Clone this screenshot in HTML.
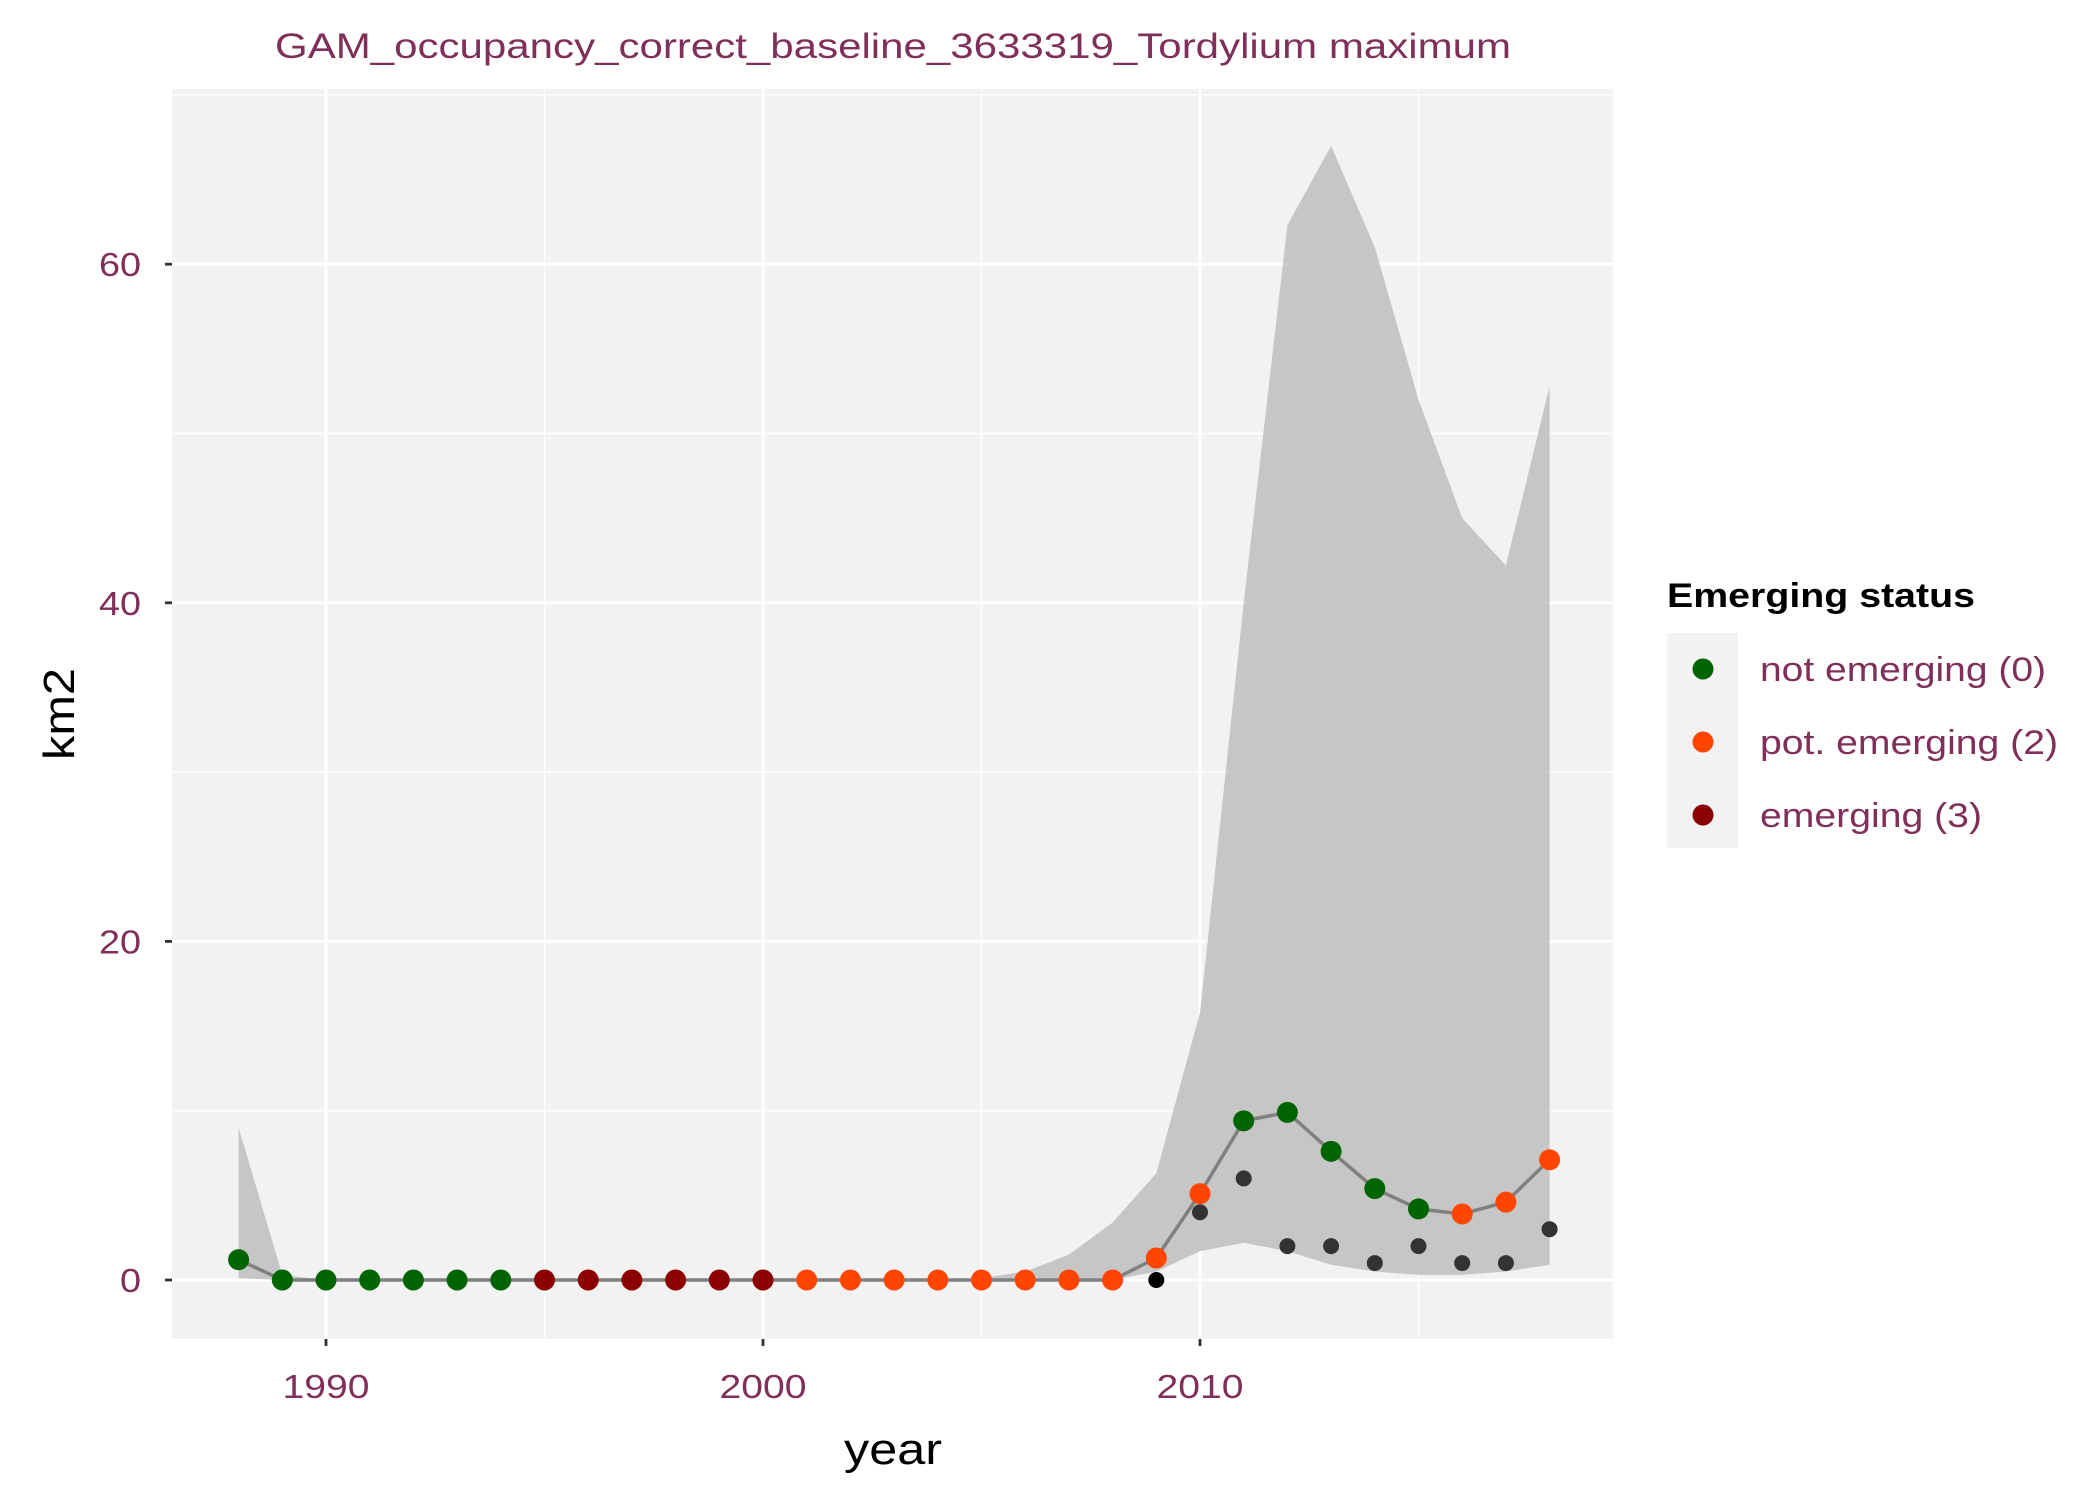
<!DOCTYPE html>
<html><head><meta charset="utf-8"><style>
body{margin:0;background:#fff}
svg text{font-family:"Liberation Sans",sans-serif}
</style></head><body>
<svg width="2100" height="1499" viewBox="0 0 2100 1499" xmlns="http://www.w3.org/2000/svg">
<g id="root"></g>
<text x="893" y="58" text-anchor="middle" font-size="35" fill="#7F2F5A" textLength="1236" lengthAdjust="spacingAndGlyphs">GAM_occupancy_correct_baseline_3633319_Tordylium maximum</text>
<text x="893" y="1464" text-anchor="middle" font-size="44" fill="#000" textLength="98" lengthAdjust="spacingAndGlyphs">year</text>
<text transform="translate(74,714) rotate(-90)" text-anchor="middle" font-size="44" fill="#000" textLength="92" lengthAdjust="spacingAndGlyphs">km2</text>
<g>
<text x="1667" y="607" font-size="34" font-weight="bold" fill="#000" textLength="308" lengthAdjust="spacingAndGlyphs">Emerging status</text>
<rect x="1667" y="633" width="71" height="215" fill="#F2F2F2"/>
<circle cx="1703" cy="669" r="10.5" fill="#006400"/>
<circle cx="1703" cy="742" r="10.5" fill="#FF4500"/>
<circle cx="1703" cy="815" r="10.5" fill="#8B0000"/>
<text x="1760" y="681" font-size="34" fill="#7F2F5A" textLength="286" lengthAdjust="spacingAndGlyphs">not emerging (0)</text>
<text x="1760" y="754" font-size="34" fill="#7F2F5A" textLength="298" lengthAdjust="spacingAndGlyphs">pot. emerging (2)</text>
<text x="1760" y="827" font-size="34" fill="#7F2F5A" textLength="222" lengthAdjust="spacingAndGlyphs">emerging (3)</text>
</g>
</svg>
<script>
const years=[1988,1989,1990,1991,1992,1993,1994,1995,1996,1997,1998,1999,2000,2001,2002,2003,2004,2005,2006,2007,2008,2009,2010,2011,2012,2013,2014,2015,2016,2017,2018];
const meanVals=[1.2,0,0,0,0,0,0,0,0,0,0,0,0,0,0,0,0,0,0,0,0,1.3,5.1,9.4,9.9,7.6,5.4,4.2,3.9,4.6,7.1];
const upperVals=[9,0.3,0,0,0,0,0,0,0,0,0,0,0,0,0,0,0,0.1,0.5,1.5,3.4,6.3,15.8,40,62.3,67,61,52,45,42.2,52.8];
const lowerVals=[0.1,0,0,0,0,0,0,0,0,0,0,0,0,0,0,0,0,0,0,0,0,0.5,1.7,2.2,1.7,0.9,0.5,0.3,0.3,0.5,0.9];
const statusVals=[0,0,0,0,0,0,0,3,3,3,3,3,3,2,2,2,2,2,2,2,2,2,2,0,0,0,0,0,2,2,2];
const obsYears=[2009,2010,2011,2012,2013,2014,2015,2016,2017,2018];
const obsVals=[0,4,6,2,2,1,2,1,1,3];
const xTicks=[1990,2000,2010];
const yTicks=[0,20,40,60];
const NS='http://www.w3.org/2000/svg';
const root=document.getElementById('root');
const P={l:172,r:1613,t:89,b:1339};
const xs=y=>326+(y-1990)*43.7;
const ys=v=>1280-v*16.93;
const colors={0:'#006400',2:'#FF4500',3:'#8B0000'};
function mk(tag,attrs,parent){const e=document.createElementNS(NS,tag);for(const k in attrs)e.setAttribute(k,attrs[k]);(parent||root).appendChild(e);return e;}
const panel=mk('rect',{x:P.l,y:P.t,width:P.r-P.l,height:P.b-P.t,fill:'#F2F2F2'});


for(let v=-10;v<=70;v+=20){const yy=ys(v);if(yy<P.t||yy>P.b)continue;const l=mk('line',{x1:P.l,x2:P.r,y1:yy,y2:yy,stroke:'#fff','stroke-width':1.4});}
for(let yr=1985;yr<=2020;yr+=10){const xx=xs(yr);if(xx<P.l||xx>P.r)continue;const l=mk('line',{x1:xx,x2:xx,y1:P.t,y2:P.b,stroke:'#fff','stroke-width':1.4});}
yTicks.forEach(v=>{const yy=ys(v);const l=mk('line',{x1:P.l,x2:P.r,y1:yy,y2:yy,stroke:'#fff','stroke-width':2.8});
const t=mk('line',{x1:P.l-7,x2:P.l,y1:yy,y2:yy,stroke:'#333','stroke-width':2.8});
const s=String(v);
const tx=mk('text',{x:P.l-31,y:yy+12,'text-anchor':'end','font-size':33,fill:'#7F2F5A',textLength:s.length*21,lengthAdjust:'spacingAndGlyphs'});tx.textContent=s;});
xTicks.forEach(v=>{const xx=xs(v);const l=mk('line',{x1:xx,x2:xx,y1:P.t,y2:P.b,stroke:'#fff','stroke-width':2.8});
const t=mk('line',{x1:xx,x2:xx,y1:P.b,y2:P.b+7,stroke:'#333','stroke-width':2.8});
const tx=mk('text',{x:xx,y:P.b+59,'text-anchor':'middle','font-size':33,fill:'#7F2F5A',textLength:87,lengthAdjust:'spacingAndGlyphs'});tx.textContent=v;});
let d='';years.forEach((y,i)=>{d+=(i?'L':'M')+xs(y)+','+ys(upperVals[i]);});
for(let i=years.length-1;i>=0;i--)d+='L'+xs(years[i])+','+ys(lowerVals[i]);
const rb=mk('path',{d:d+'Z',fill:'#BEBEBE','fill-opacity':0.85});


const ln=mk('polyline',{points:years.map((y,i)=>xs(y)+','+ys(meanVals[i])).join(' '),fill:'none',stroke:'#808080','stroke-width':3.5});


obsYears.forEach((y,i)=>{const c=mk('circle',{cx:xs(y),cy:ys(obsVals[i]),r:8,fill:i==0?'#000':'#333'});});
years.forEach((y,i)=>{const c=mk('circle',{cx:xs(y),cy:ys(meanVals[i]),r:10.5,fill:colors[statusVals[i]]});});
</script>
</body></html>
